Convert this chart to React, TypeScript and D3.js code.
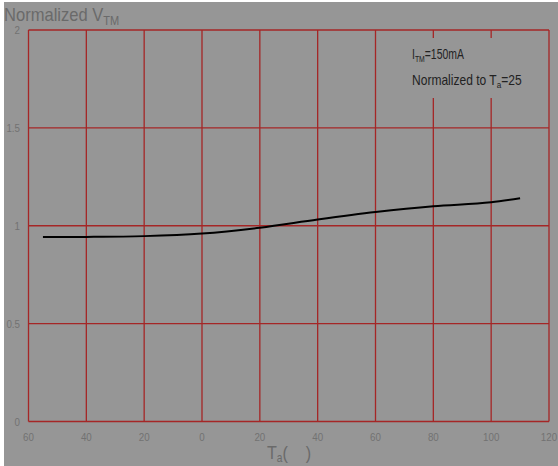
import React from "react";
import * as d3 from "d3";

const temps = [-55, -40, -20, 0, 20, 40, 60, 80, 100, 110];
const vtm = [0.942, 0.943, 0.947, 0.96, 0.99, 1.032, 1.07, 1.1, 1.12, 1.14];
const xTicks = [-60, -40, -20, 0, 20, 40, 60, 80, 100, 120];
const xTickLabels = ["60", "40", "20", "0", "20", "40", "60", "80", "100", "120"];
const yTicks = [0, 0.5, 1, 1.5, 2];
const yTickLabels = ["0", "0.5", "1", "1.5", "2"];

const W = 558;
const H = 466;
const FONT = "'Liberation Sans', Arial, sans-serif";

export default function App() {
  const x = d3.scaleLinear().domain([-60, 120]).range([28.5, 549]);
  const y = d3.scaleLinear().domain([0, 2]).range([421.5, 30]);
  const line = d3
    .line<number>()
    .x((_, i) => x(temps[i]))
    .y((d) => y(d))
    .curve(d3.curveMonotoneX);

  const grid = "#a52626";
  const tickColor = "#727272";

  return (
    <svg
      width={W}
      height={H}
      style={{ position: "absolute", left: 0, top: 0, display: "block" }}
      fontFamily={FONT}
    >
      <rect x={0} y={0} width={W} height={H} fill="#ffffff" />
      <rect x={4} y={2} width={W - 4} height={H - 2} fill="#969696" />

      {/* vertical grid */}
      {xTicks.map((t) => (
        <line key={"vx" + t} x1={x(t)} x2={x(t)} y1={y(2)} y2={y(0)} stroke={grid} strokeWidth={1.3} />
      ))}
      {/* horizontal grid */}
      {yTicks.map((t) => (
        <line key={"hy" + t} x1={x(-60)} x2={x(120)} y1={y(t)} y2={y(t)} stroke={grid} strokeWidth={1.3} />
      ))}

      {/* legend background */}
      <rect x={404} y={38} width={138} height={60} fill="#969696" />

      {/* y tick labels */}
      {yTicks.map((t, i) => (
        <text
          key={"yl" + t}
          transform={`translate(20,${y(t)}) scale(0.85,1)`}
          dy="0.35em"
          textAnchor="end"
          fontSize={11.5}
          fill={tickColor}
        >
          {yTickLabels[i]}
        </text>
      ))}
      {/* x tick labels */}
      {xTicks.map((t, i) => (
        <text
          key={"xl" + t}
          transform={`translate(${x(t)},441) scale(0.85,1)`}
          textAnchor="middle"
          fontSize={11.5}
          fill={tickColor}
        >
          {xTickLabels[i]}
        </text>
      ))}

      {/* curve */}
      <path d={line(vtm) || ""} fill="none" stroke="#000" strokeWidth={2} />

      {/* title */}
      <text transform="translate(4,21) scale(0.92,1)" fontSize={18} fill="#6a6a6a">
        Normalized V
        <tspan fontSize={12} dy={4}>TM</tspan>
      </text>

      {/* x axis title */}
      <text transform="translate(267,459) scale(0.85,1)" fontSize={19} fill="#6a6a6a">
        T<tspan fontSize={12} dy={3}>a</tspan>
        <tspan dy={-3}>{"(\u00a0\u00a0\u00a0\u00a0)"}</tspan>
      </text>

      {/* legend */}
      <text transform="translate(412,59) scale(0.72,1)" fontSize={14.5} fill="#222">
        I<tspan fontSize={9.5} dy={3}>TM</tspan>
        <tspan dy={-3}>=150mA</tspan>
      </text>
      <text transform="translate(412,85) scale(0.86,1)" fontSize={14} fill="#222">
        Normalized to T<tspan fontSize={9.5} dy={3}>a</tspan>
        <tspan dy={-3}>=25</tspan>
      </text>
    </svg>
  );
}
